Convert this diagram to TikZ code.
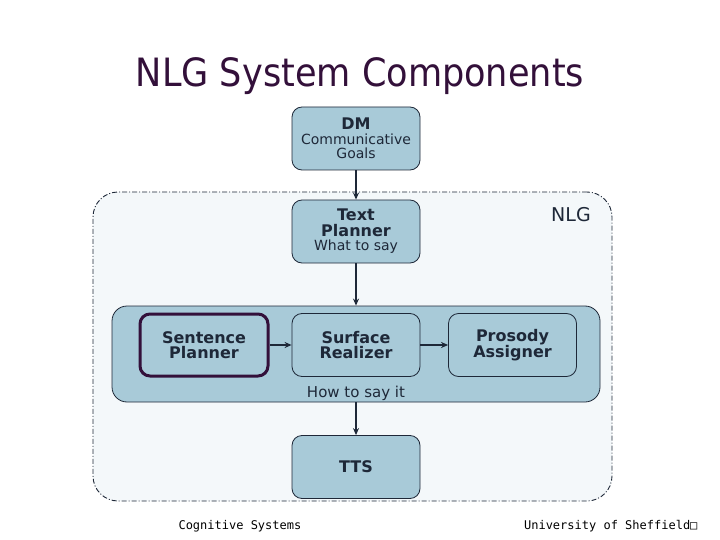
\documentclass[tikz,border=0pt]{standalone}
\usepackage{fontspec}
\setmainfont{DejaVu Sans}
\newfontfamily\titlefont[FakeStretch=0.9]{DejaVu Sans}
\newfontfamily\footfont{DejaVu Sans Mono}
\newcommand\subtxt{\fontsize{14}{14}\selectfont\mdseries}
\usetikzlibrary{arrows.meta}
\definecolor{boxfill}{RGB}{168,202,216}
\definecolor{outerfill}{RGB}{244,248,250}
\definecolor{ink}{RGB}{30,40,56}
\definecolor{titlecol}{RGB}{51,16,58}
\begin{document}
\begin{tikzpicture}[x=1pt,y=-1pt,
  box/.style={draw=ink,line width=0.8pt,fill=boxfill,rounded corners=10pt,
    minimum width=128pt,minimum height=63pt,inner sep=0pt,align=center,
    text=ink,font=\fontsize{16}{15.5}\selectfont\bfseries},
  arr/.style={draw=ink,line width=1.8pt,-{Stealth[length=7pt,width=6pt]}}]
\useasboundingbox (0,0) rectangle (720,540);
\fill[white] (0,0) rectangle (720,540);
% title
\node[text=titlecol,font=\titlefont\fontsize{39}{40}\selectfont] (title) at (360,76) {NLG System Components};
% outer NLG region
\node[draw=ink,line width=0.9pt,fill=outerfill,rounded corners=25pt,
  dash pattern=on 5pt off 2pt on 1pt off 2pt,
  minimum width=519pt,minimum height=309pt] (nlg) at (352.5,346.5) {};
\node[text=ink,font=\fontsize{19}{19}\selectfont] (nlglabel) at (571,215) {NLG};
% inner band
\node[draw=ink,line width=0.8pt,fill=boxfill,rounded corners=15pt,
  minimum width=488pt,minimum height=96pt] (band) at (356,354) {};
\node[text=ink,font=\fontsize{15}{15}\selectfont,anchor=base] (how) at (356,397) {How to say it};
% boxes
\node[box] (dm) at (356,138.5) {DM\\[-1pt]{\subtxt Communicative}\\[-1pt]{\subtxt Goals}};
\node[box] (tp) at (356,231.5) {Text\\Planner\\[-1pt]{\subtxt What to say}};
\node[box,draw=titlecol,line width=3pt,minimum width=128pt,minimum height=62pt] (sp) at (204,345) {Sentence\\Planner};
\node[box] (sr) at (356,345) {Surface\\Realizer};
\node[box] (pa) at (512.5,345) {Prosody\\Assigner};
\node[box] (tts) at (356,467) {TTS};
% arrows
\draw[arr] (dm.south) -- (tp.north);
\draw[arr] (tp.south) -- (band.north -| tp.south);
\draw[arr] (sp.east) -- (sr.west);
\draw[arr] (sr.east) -- (pa.west);
\draw[arr] (band.south -| tts.north) -- (tts.north);
% footer
\node[anchor=base west,text=black,font=\footfont\fontsize{12}{12}\selectfont] (f1) at (175,529) {Cognitive Systems};
\node[anchor=base east,text=black,font=\footfont\fontsize{12}{12}\selectfont] (f2) at (701,529) {University of Sheffield□};
\end{tikzpicture}
\end{document}
